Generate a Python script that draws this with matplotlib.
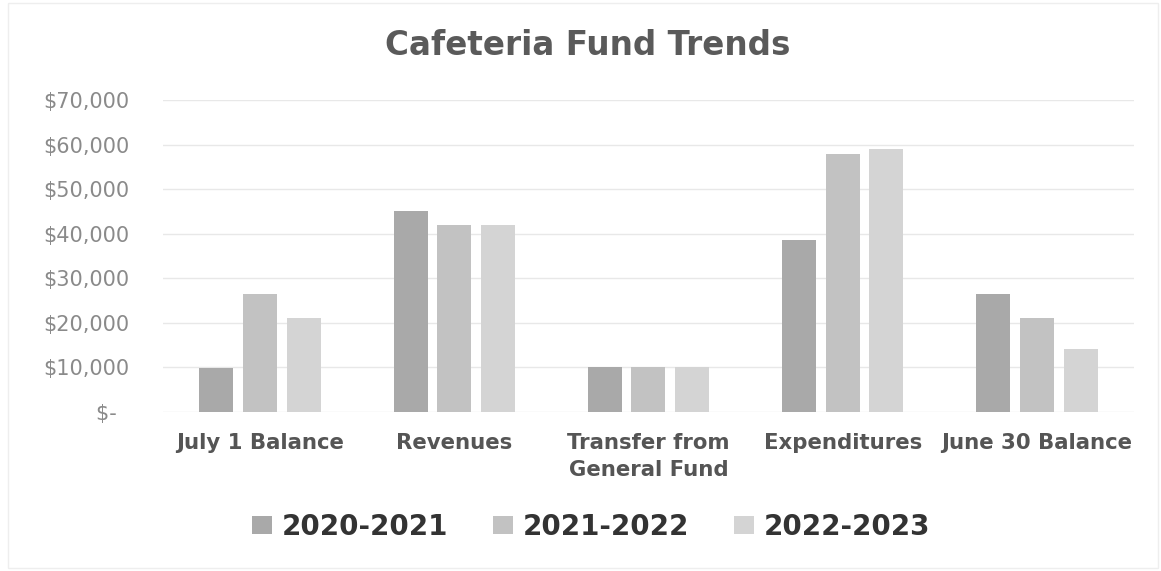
import matplotlib.pyplot as plt
import numpy as np
from matplotlib.ticker import FuncFormatter
from matplotlib.patches import Rectangle

categories = ["July 1 Balance", "Revenues", "Transfer from\nGeneral Fund",
              "Expenditures", "June 30 Balance"]
years = ["2020-2021", "2021-2022", "2022-2023"]
values_2020 = [9800, 45100, 10000, 38600, 26400]
values_2021 = [26400, 41900, 10000, 57800, 21000]
values_2022 = [21000, 41900, 10000, 59000, 14100]
colors = ["#a9a9a9", "#c2c2c2", "#d4d4d4"]

plt.rcParams["font.family"] = ["DejaVu Sans"]

fig = plt.figure(figsize=(11.61, 5.71), dpi=100)
ax = fig.add_axes([0.1404, 0.2785, 0.8363, 0.5464])

x = np.arange(len(categories))
width = 0.175
step = 0.225
series = [values_2020, values_2021, values_2022]
for i, (vals, label, c) in enumerate(zip(series, years, colors)):
    ax.bar(x + (i - 1) * step, vals, width, color=c, label=label, zorder=2)

ax.set_xlim(-0.5, len(categories) - 0.5)
ax.set_ylim(0, 70000)
ax.set_yticks(range(0, 70001, 10000))


def money(v, pos):
    if v == 0:
        return "$-  "
    return f"${v:,.0f}"


ax.yaxis.set_major_formatter(FuncFormatter(money))
ax.grid(axis="y", color="#e8e8e8", linewidth=1, zorder=0)
for s in ax.spines.values():
    s.set_visible(False)
ax.tick_params(axis="both", length=0)
ax.tick_params(axis="y", labelsize=15, labelcolor="#8a8a8a", pad=24)
ax.set_xticks(x)
ax.set_xticklabels(categories, fontsize=15.3, fontweight="bold", color="#555555",
                   linespacing=1.45)
ax.tick_params(axis="x", pad=15)

fig.text(0.506, 0.92, "Cafeteria Fund Trends", ha="center", va="center",
         fontsize=23.5, fontweight="bold", color="#5a5a5a")

leg = fig.legend(loc="center", bbox_to_anchor=(0.509, 0.077), ncol=3, frameon=False,
                 prop={"size": 20, "weight": "bold"}, handlelength=0.72,
                 handleheight=0.62, handletextpad=0.36, columnspacing=1.6)
for t in leg.get_texts():
    t.set_color("#333333")

# faint chart border
fig.add_artist(Rectangle((0.007, 0.005), 0.99, 0.99, transform=fig.transFigure,
                         fill=False, edgecolor="#eeeeee", linewidth=1))

fig.savefig("out.png", dpi=100)
